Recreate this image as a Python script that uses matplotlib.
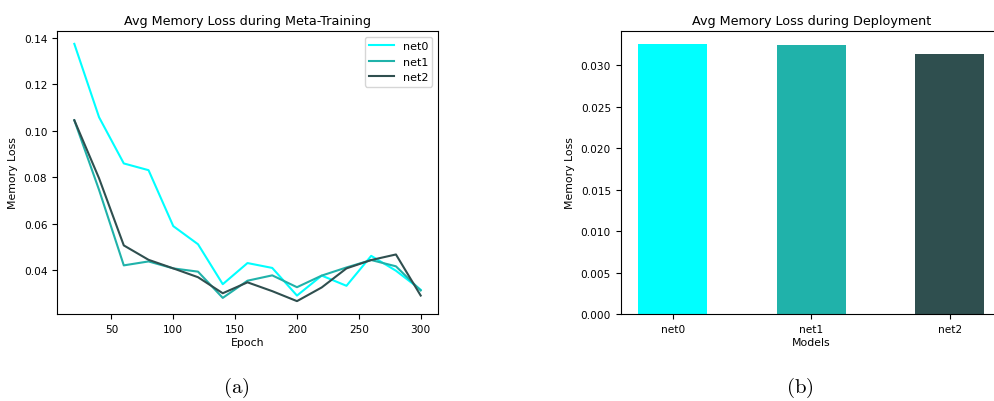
import numpy as np
import matplotlib
matplotlib.use("Agg")
from matplotlib import pyplot as plt

# meta-training curves
epochs = [20, 40, 60, 80, 100, 120, 140, 160, 180, 200, 220, 240, 260, 280, 300]
net0_loss = [0.1374, 0.1058, 0.0859, 0.0830, 0.0589, 0.0511, 0.0339, 0.0430, 0.0409,
             0.0290, 0.0376, 0.0332, 0.0461, 0.0397, 0.0315]
net1_loss = [0.1045, 0.0745, 0.0420, 0.0437, 0.0407, 0.0393, 0.0280, 0.0354, 0.0377,
             0.0326, 0.0376, 0.0411, 0.0443, 0.0416, 0.0312]
net2_loss = [0.1045, 0.0795, 0.0506, 0.0444, 0.0407, 0.0369, 0.0300, 0.0347, 0.0309,
             0.0266, 0.0325, 0.0407, 0.0443, 0.0467, 0.0290]

# deployment
models = ["net0", "net1", "net2"]
deploy_loss = [0.0325, 0.0324, 0.0314]
colors = ["cyan", "lightseagreen", "darkslategray"]

plt.rcParams['mathtext.fontset'] = 'cm'

W, H = 995, 402
fig = plt.figure(figsize=(W / 100, H / 100), dpi=100)

def box(x0, x1, y0, y1):
    # pixel box -> figure fraction
    return [x0 / W, 1 - y1 / H, (x1 - x0) / W, (y1 - y0) / H]

tick_fs = 7.6
lab_fs = 7.8
title_fs = 9.2

# (a) line chart
ax1 = fig.add_axes(box(57, 438, 32, 315))
for y, name, c in zip([net0_loss, net1_loss, net2_loss], models, colors):
    ax1.plot(epochs, y, color=c, label=name, linewidth=1.5)
ax1.set_title("Avg Memory Loss during Meta-Training", fontsize=title_fs, pad=5)
ax1.set_xlabel("Epoch", fontsize=lab_fs, labelpad=2)
ax1.set_ylabel("Memory Loss", fontsize=lab_fs)
ax1.tick_params(labelsize=tick_fs)
ax1.legend(fontsize=8, loc="upper right", handlelength=2.2)

# (b) bar chart
ax2 = fig.add_axes(box(620.7, 1001.6, 32, 315))
ax2.bar(models, deploy_loss, color=colors, width=0.5)
ax2.set_title("Avg Memory Loss during Deployment", fontsize=title_fs, pad=5)
ax2.set_xlabel("Models", fontsize=lab_fs, labelpad=2)
ax2.set_ylabel("Memory Loss", fontsize=lab_fs)
ax2.tick_params(labelsize=tick_fs)

fig.text(236 / W, 1 - 388 / H, r"$\mathrm{(a)}$", fontsize=15, ha="center", va="center")
fig.text(800 / W, 1 - 388 / H, r"$\mathrm{(b)}$", fontsize=15, ha="center", va="center")

fig.savefig("out.png", dpi=100)
